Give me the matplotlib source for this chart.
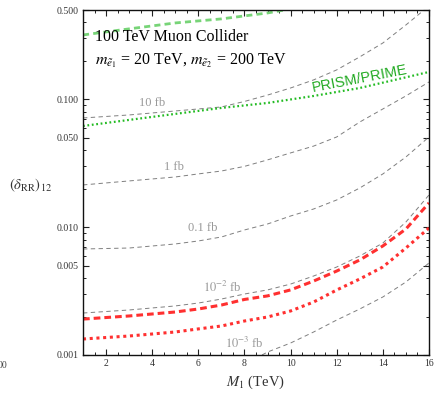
import numpy as np
import matplotlib
matplotlib.use("Agg")
import matplotlib.pyplot as plt
from matplotlib.ticker import FixedLocator, NullFormatter, MultipleLocator

plt.rcParams['font.family'] = ['Liberation Serif', 'DejaVu Serif']
plt.rcParams['mathtext.fontset'] = 'stix'

# cross-section contours (gray dashed)
x_grid = [1, 3, 5, 6, 7, 8, 9, 10, 11, 12, 13, 14, 15, 16]
xs_10fb = [0.0715, 0.0755, 0.0811, 0.0841, 0.0872, 0.0963, 0.108, 0.1227, 0.142, 0.170, 0.215, 0.276, 0.382, 0.538]
xs_1fb = [0.0214, 0.0230, 0.0247, 0.0261, 0.0275, 0.0299, 0.0336, 0.0381, 0.0431, 0.0508, 0.0665, 0.0841, 0.1064, 0.1368]
xs_01fb = [0.00675, 0.00687, 0.00739, 0.0078, 0.00838, 0.00951, 0.01059, 0.01223, 0.01388, 0.01633, 0.02026, 0.02609, 0.03543, 0.0508]
xs_1em2fb = [0.00213, 0.00225, 0.00242, 0.00255, 0.00274, 0.00300, 0.00323, 0.00359, 0.00415, 0.00488, 0.00595, 0.00752, 0.01098, 0.01786]
x_1em3 = [8.76, 9, 10, 11, 12, 13, 14, 15, 16]
xs_1em3fb = [0.001, 0.001055, 0.001241, 0.001514, 0.001878, 0.002291, 0.002844, 0.003726, 0.005248]

# experimental limits
red_dashed = [0.00191, 0.00202, 0.00217, 0.00229, 0.00246, 0.00272, 0.00290, 0.00323, 0.00379, 0.00454, 0.00554, 0.00713, 0.00968, 0.01547]
red_dotted = [0.001334, 0.001408, 0.001514, 0.0016, 0.001686, 0.001845, 0.001983, 0.00221, 0.002598, 0.003226, 0.003933, 0.004882, 0.006874, 0.009856]
x_prism = [1, 4, 7, 9, 11, 13, 16]
prism = [0.0619, 0.0729, 0.0857, 0.0937, 0.1063, 0.1227, 0.1638]
x_green = [1, 3, 5, 7, 9, 10]
green_dashed = [0.319, 0.356, 0.396, 0.426, 0.474, 0.510]

contour_labels = ["10 fb", "1 fb", "0.1 fb", r"$10^{-2}$ fb", r"$10^{-3}$ fb"]
label_pos = [(3.99, 0.0937), (4.94, 0.0296), (6.2, 0.00986), (7.03, 0.0034), (7.98, 0.00124)]

y_ticks = [0.001, 0.005, 0.010, 0.050, 0.100, 0.500]
y_ticklabels = ["0.001", "0.005", "0.010", "0.050", "0.100", "0.500"]

fig = plt.figure(figsize=(4.34, 3.94), dpi=100)
ax = fig.add_axes([83/434, 1-355/394, 346/434, 345/394])

gray = '#7f7f7f'
for ys in [xs_10fb, xs_1fb, xs_01fb, xs_1em2fb]:
    ax.plot(x_grid, ys, color=gray, lw=0.7, dashes=(4.5, 3.5))
ax.plot(x_1em3, xs_1em3fb, color=gray, lw=0.7, dashes=(4.5, 3.5))

ax.plot(x_grid, red_dashed, color='#ff3030', lw=2.2, dashes=(2.2, 1.3))
ax.plot(x_grid, red_dotted, color='#ff3030', lw=2.2, dashes=(1.0, 1.2))
ax.plot(x_prism, prism, color='#22bb22', lw=1.6, dashes=(0.8, 1.2))
ax.plot(x_green, green_dashed, color='#77d477', lw=2.0, dashes=(2.2, 1.5))

for lab, (lx, ly) in zip(contour_labels, label_pos):
    ax.text(lx, ly, lab, color='#999999', fontsize=9, ha='center', va='center')

ax.text(13.0, 0.144, "PRISM/PRIME", color='#22aa22', fontsize=10.5,
        family=['Liberation Sans', 'DejaVu Sans'], rotation=11,
        ha='center', va='center')

ax.text(1.5, 0.31, "100 TeV Muon Collider", fontsize=11.5, va='center')
ax.text(1.5, 0.2, r"$m_{\tilde{e}_1}$ = 20 TeV, $m_{\tilde{e}_2}$ = 200 TeV",
        fontsize=11.5, va='center')

ax.set_yscale('log')
ax.set_xlim(1, 16)
ax.set_ylim(0.001, 0.5)

ax.xaxis.set_major_locator(MultipleLocator(2))
ax.xaxis.set_minor_locator(MultipleLocator(0.5))
ax.yaxis.set_major_locator(FixedLocator(y_ticks))
ax.set_yticklabels(y_ticklabels)
minor_y = [m * d for d in [0.001, 0.01, 0.1] for m in range(2, 10) if m * d < 0.5 and m != 5]
ax.yaxis.set_minor_locator(FixedLocator(minor_y))
ax.yaxis.set_minor_formatter(NullFormatter())

ax.tick_params(which='both', direction='in', top=True, right=True, labelsize=7,
               color='#222222', labelcolor='#333333', pad=3)
ax.tick_params(which='major', length=4, width=0.8)
ax.tick_params(which='minor', length=2, width=0.7)
for sp in ax.spines.values():
    sp.set_linewidth(1.0)
    sp.set_color('#111111')

ax.set_xlabel(r"$M_1$ (TeV)", fontsize=10.5, color='#333333', labelpad=4)
fig.text(0.02, 1-185/394, r"$(\delta_{\rm RR})_{12}$", fontsize=10.5, color='#333333',
         ha='left', va='center')
fig.text(-0.005, 1-365/394, "00", fontsize=7, color='#444444', ha='left', va='center')

fig.savefig("out.png", dpi=100)
